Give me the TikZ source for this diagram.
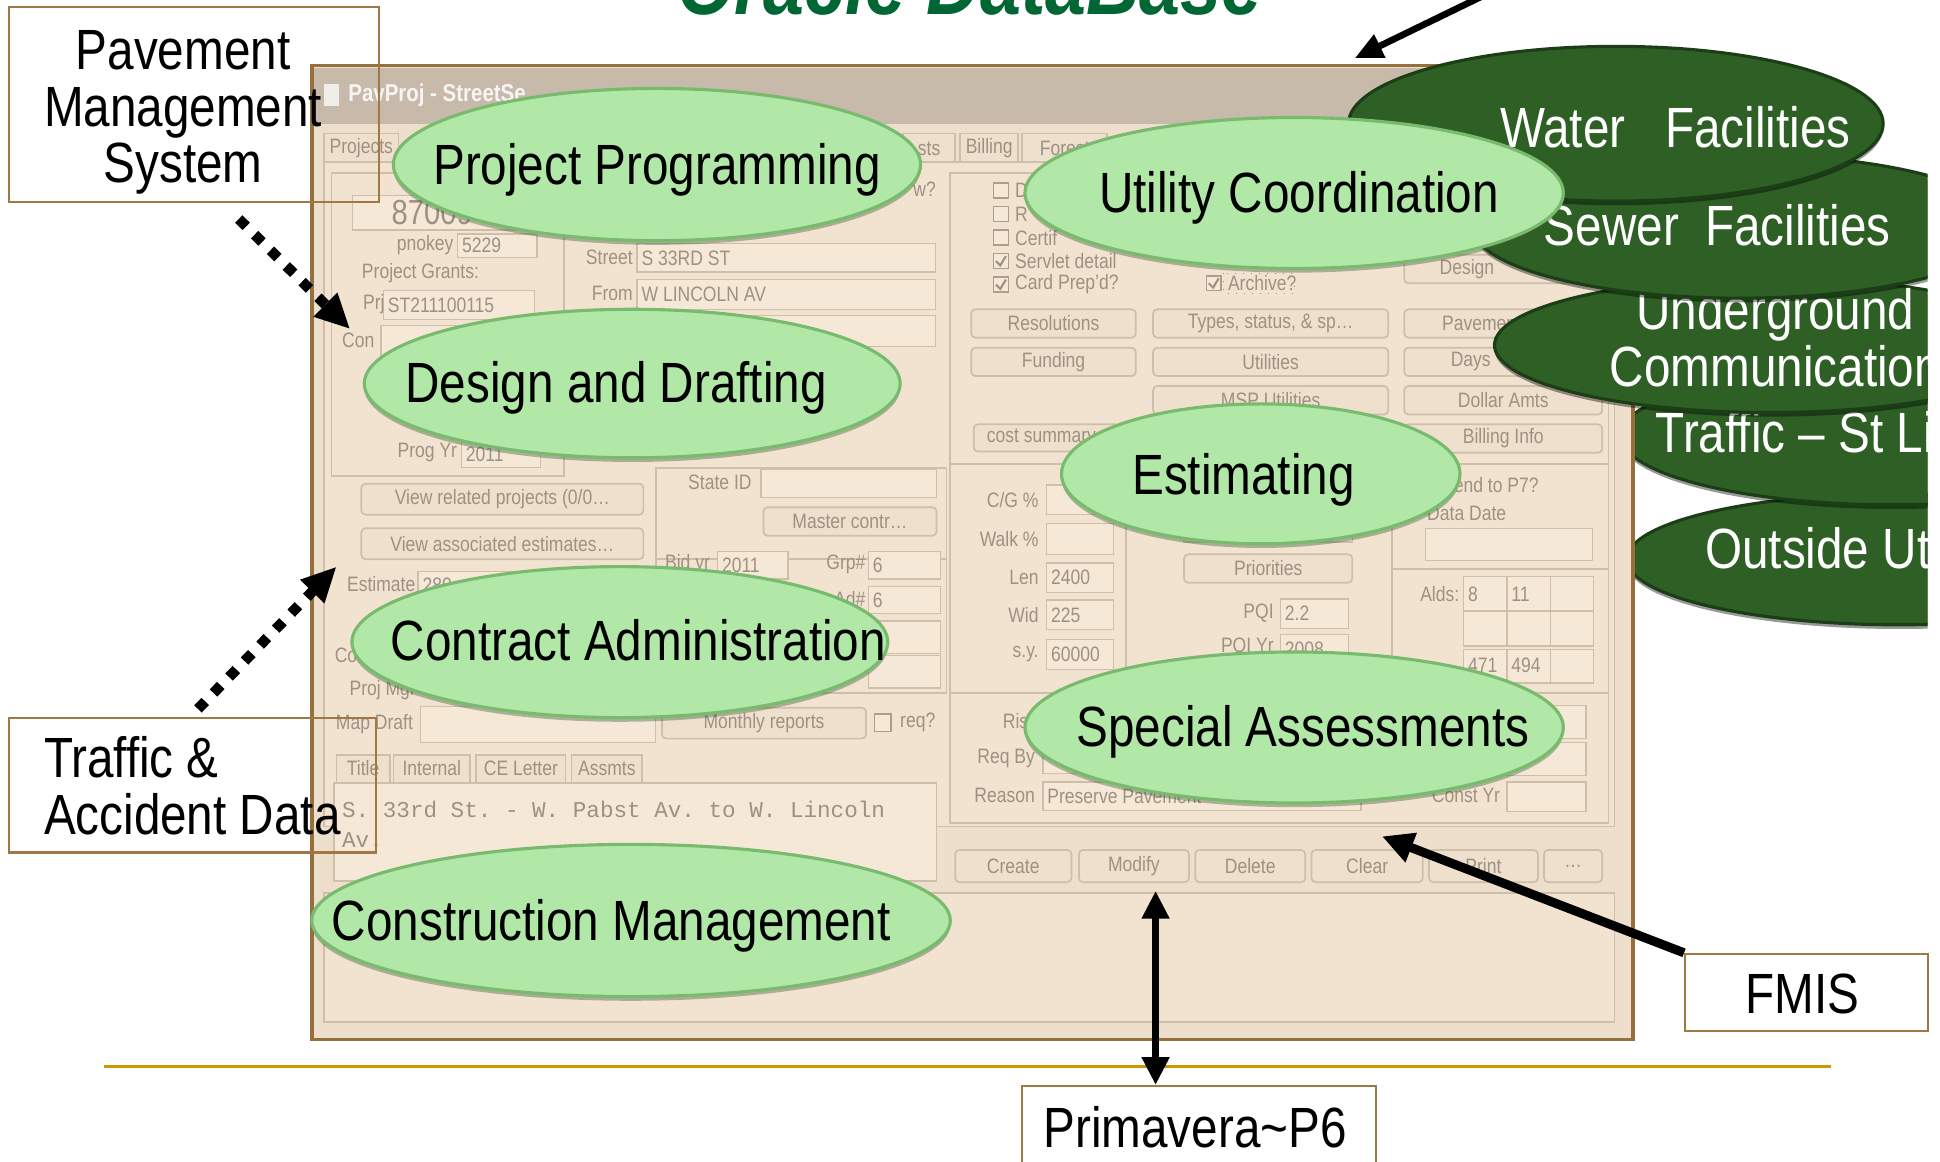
\documentclass[tikz,border=0pt]{standalone}
\usepackage{fontspec}
\setmainfont{Liberation Sans}[FakeStretch=0.84]
\setmonofont{Liberation Mono}
\usetikzlibrary{positioning,arrows.meta,shapes.geometric,shadows}

\definecolor{winbg}{RGB}{238,223,204}
\definecolor{panelbg}{RGB}{242,227,208}
\definecolor{fldbg}{RGB}{246,232,214}
\definecolor{btnbg}{RGB}{239,224,205}
\definecolor{winline}{RGB}{206,190,170}
\definecolor{wintext}{RGB}{158,145,131}
\definecolor{framebrown}{RGB}{150,112,60}
\definecolor{titlebar}{RGB}{199,186,171}
\definecolor{boxbrown}{RGB}{160,120,70}
\definecolor{bubfill}{RGB}{177,231,167}
\definecolor{bubedge}{RGB}{120,186,110}
\definecolor{dkfill}{RGB}{46,95,37}
\definecolor{dkedge}{RGB}{28,62,22}
\definecolor{oraclegreen}{RGB}{0,102,51}
\definecolor{gold}{RGB}{204,153,0}

\newcommand{\bubfont}{\fontsize{16.3}{16.3}\selectfont}
\newcommand{\winfont}{\fontsize{6}{7}\selectfont}

\tikzset{
  lbub/.style={ellipse, fill=bubfill, draw=bubedge, line width=0.9pt, inner sep=0pt,
    drop shadow={shadow xshift=0pt, shadow yshift=-1.2pt, opacity=0.4, fill=bubedge!50!black}},
  dbub/.style={ellipse, fill=dkfill, draw=dkedge, line width=0.9pt, inner sep=0pt,
    drop shadow={shadow xshift=0pt, shadow yshift=-1.2pt, opacity=0.4, fill=black}},
  btxt/.style={font=\bubfont, inner sep=0pt, anchor=base},
  wtxt/.style={btxt, text=white},
  tbox/.style={draw=boxbrown, line width=0.6pt, inner sep=0pt},
  fld/.style={fill=fldbg, draw=winline, line width=0.4pt},
  btn/.style={fill=btnbg, draw=winline, line width=0.5pt, rounded corners=1.2pt},
  grp/.style={draw=winline, line width=0.5pt},
  wl/.style={font=\winfont, text=wintext, inner sep=0pt},
  ckbox/.style={fill=fldbg, draw=wintext!70!winline, line width=0.4pt},
  ckmark/.style={draw=wintext, line width=0.6pt},
  dotarrow/.style={line width=3pt, dash pattern=on 3pt off 3.4pt, -{Triangle[length=10pt,width=9pt]}},
  solarrow/.style={line width=1.9pt, -{Triangle[length=8pt,width=7pt]}}
}

\begin{document}
\begin{tikzpicture}[x=0.0125cm, y=-0.0125cm]
  \useasboundingbox (0,0) rectangle (1568,939);
  \fill[white] (0,0) rectangle (1568,939);

  % ellipses foncees derriere la fenetre
  \begin{scope}
    \clip (0,0) rectangle (1558,939);
    \node[dbub, minimum width=5.5cm, minimum height=1.325cm] (out) at (1535,452) {};
    \node[wtxt] (outtx) at (1512,459.5) {Outside Utilities};
    \node[dbub, minimum width=5.5cm, minimum height=1.4cm] (trf) at (1530,352) {};
    \node[wtxt] (trftx) at (1503,366) {Traffic -- St Lighting};
  \end{scope}

  % fenetre PavProj
  \draw[fill=winbg, draw=framebrown, line width=1pt] (252,53) rectangle (1320,840);
  \fill[titlebar] (254,55) rectangle (1318,100);
  \fill[white!75!titlebar] (262,68) rectangle (274,86);
  \node[anchor=west, font=\fontsize{7}{8}\selectfont\bfseries, text=white!85!titlebar, inner sep=0pt] (wtitle) at (281,77) {PavProj - StreetSe};

  % onglets et panneaux
  \draw[grp, fill=panelbg] (262,131) rectangle (1305,668);
  \foreach \xa/\xb/\lab in {262/322/Projects, 730/772/sts, 776/823/Billing, 826/895/Forest} {
    \draw[grp, fill=btnbg] (\xa,108) rectangle (\xb,131);
    \node[wl] at ({(\xa+\xb)/2},120) {\lab};
  }
  \draw[grp] (268,140) rectangle (456,385);
  \draw[grp] (768,140) rectangle (1300,375);
  \draw[grp] (768,375) rectangle (910,560);
  \draw[grp] (910,375) rectangle (1125,560);
  \draw[grp] (1125,375) rectangle (1300,460);
  \draw[grp] (1125,460) rectangle (1300,560);
  \draw[grp] (768,560) rectangle (1300,665);
  \draw[grp] (530,378) rectangle (765,452);
  \draw[grp] (530,452) rectangle (765,560);
  \draw[grp, fill=panelbg] (262,722) rectangle (1305,826);

  % champs
  \foreach \xa/\ya/\xb/\yb/\v in {285/158/432/186/{}, 370/189/434/208/5229,
      310/235/432/258/ST211100115, 308/263/440/288/{}, 373/356/437/378/2011,
      515/197/756/220/S 33RD ST, 515/226/756/250/W LINCOLN AV, 515/255/756/280/{},
      615/379/757/402/{}, 580/446/637/468/2011, 702/446/760/468/6, 702/474/760/496/6,
      702/502/760/528/{}, 702/530/760/556/{}, 338/462/528/484/280, 340/571/530/600/{},
      846/392/900/416/{}, 846/423/900/448/{}, 846/455/900/479/2400, 846/485/900/509/225,
      846/517/900/541/60000, 957/415/1093/438/{}, 1035/484/1090/508/2.2,
      1035/513/1090/537/2008, 1152/427/1287/453/{}, 1218/570/1282/597/{},
      1218/600/1282/627/{}, 1218/632/1282/656/{}, 843/602/1100/625/{},
      843/632/1100/655/Preserve Pavement} {
    \draw[fld] (\xa,\ya) rectangle (\xb,\yb);
    \node[wl, anchor=west] at (\xa+3,{(\ya+\yb)/2}) {\v};
  }
  \node[anchor=west, font=\fontsize{10}{10}\selectfont, text=wintext, inner sep=0pt] (pnum) at (316,172) {87009};
  \foreach \xa in {1183,1218,1253}
    \foreach \ya/\yb in {466/494, 494/522, 525/552}
      \draw[fld] (\xa,\ya) rectangle (\xa+35,\yb);
  \foreach \x/\y/\v in {1186/480/8, 1221/480/11, 1186/538/471, 1221/538/494}
    \node[wl, anchor=west] at (\x,\y) {\v};

  % libelles
  \foreach \x/\y/\lab in {367/198/pnokey, 370/366/Prog Yr, 512/208/Street, 512/237/From,
      608/390/State ID, 700/456/Grp\#, 700/484/Ad\#, 840/404/{C/G \%}, 840/436/Walk \%,
      840/467/Len, 840/497/Wid, 840/529/s.y., 1030/496/PQI, 1030/523/PQI Yr,
      837/613/Req By, 837/643/Reason, 1213/643/Const Yr, 1180/480/Alds:, 757/153/w?}
    \node[wl, anchor=east] at (\x,\y) {\lab};
  \foreach \x/\y/\lab in {292/221/Project Grants:, 293/246/Prj, 276/275/Con,
      280/472/Estimate, 537/456/Bid yr, 270/530/Co, 282/558/Proj Mgr, 271/585/Map Draft,
      727/584/req?, 1153/415/Data Date, 1165/392/Send to P7?, 810/583/Ris,
      820/154/D, 820/173/R, 820/192/Certif, 820/211/Servlet detail,
      820/230/Card Prep'd?, 992/229/Archive?}
    \node[wl, anchor=west] at (\x,\y) {\lab};

  % boutons
  \foreach \xa/\ya/\xb/\yb/\lab in {785/250/918/273/Resolutions, 785/281/918/304/Funding,
      932/250/1122/273/{Types, status, \& sp\ldots}, 932/281/1122/304/Utilities,
      932/312/1122/335/MSP Utilities, 1135/312/1295/335/Dollar Amts,
      1135/343/1295/366/Billing Info, 292/391/520/416/{View related projects (0/0\ldots},
      292/427/520/452/{View associated estimates\ldots}, 617/410/757/433/{Master contr\ldots},
      957/448/1093/471/Priorities, 535/572/700/597/Monthly reports,
      772/687/866/713/Create, 872/687/961/713/Modify, 966/687/1055/713/Delete,
      1060/687/1150/713/Clear, 1155/687/1243/713/Print, 1248/687/1295/713/\ldots} {
    \draw[btn] (\xa,\ya) rectangle (\xb,\yb);
    \node[wl] at ({(\xa+\xb)/2},{(\ya+\yb)/2}) {\lab};
  }
  \foreach \xa/\ya/\xb/\yb/\tx/\lab in {1135/250/1295/273/1165/Pavement,
      1135/281/1295/304/1172/Days /, 1135/206/1300/229/1163/Design/,
      787/343/905/365/797/cost summary} {
    \draw[btn] (\xa,\ya) rectangle (\xb,\yb);
    \node[wl, anchor=west] at (\tx,{(\ya+\yb)/2}) {\lab};
  }

  % cases a cocher
  \foreach \y in {154,173,192,211,230}
    \draw[ckbox] (803,\y-6) rectangle (815,\y+6);
  \foreach \y in {211,230}
    \draw[ckmark] (805,\y) -- (808.5,\y+3.5) -- (813,\y-4);
  \draw[ckbox] (975,223) rectangle (987,235);
  \draw[ckmark] (977,229) -- (980.5,232.5) -- (985,225);
  \draw[wintext, dotted, line width=0.3pt] (989,221) rectangle (1046,237);
  \draw[ckbox] (707,577) rectangle (720,591);
  \draw[ckbox] (1149,386) rectangle (1161,398);

  % onglets du bas et texte
  \foreach \xa/\xb/\lab in {272/315/Title, 318/380/Internal, 385/457/CE Letter, 462/519/Assmts} {
    \draw[grp, fill=btnbg] (\xa,610) rectangle (\xb,633);
    \node[wl] at ({(\xa+\xb)/2},621) {\lab};
  }
  \draw[fld] (270,633) rectangle (757,712);
  \node[anchor=west, font=\ttfamily\fontsize{6.5}{7.5}\selectfont, text=wintext, inner sep=0pt] (ttl1) at (276,654) {S. 33rd St. - W. Pabst Av. to W. Lincoln};
  \node[anchor=west, font=\ttfamily\fontsize{6.5}{7.5}\selectfont, text=wintext, inner sep=0pt] (ttl2) at (276,679) {Av.};

  % ellipses foncees devant la fenetre
  \begin{scope}
    \clip (0,0) rectangle (1558,939);
    \node[dbub, minimum width=5.55cm, minimum height=1.36cm] (ugc) at (1430,279) {};
    \node[font=\bubfont, text=white, align=center, inner sep=0pt] (ugctx) at (1435,273) {Underground\\Communication};
    \node[dbub, minimum width=5.4cm, minimum height=1.45cm] (swr) at (1406,183) {};
    \node[wtxt] (swrtx) at (1388,198.5) {Sewer\ \ Facilities};
    \node[dbub, minimum width=5.4cm, minimum height=1.5625cm] (wat) at (1306,100) {};
    \node[wtxt] (wattx) at (1354,119.5) {Water\ \ \ Facilities};
  \end{scope}

  % ellipses claires
  \node[lbub, minimum width=5.325cm, minimum height=1.5375cm] (pp) at (531,133) {};
  \node[btxt] (pptx) at (531,149.5) {Project Programming};
  \node[lbub, minimum width=5.4125cm, minimum height=1.5cm] (dd) at (511,310) {};
  \node[btxt] (ddtx) at (498,325.5) {Design and Drafting};
  \node[lbub, minimum width=5.4125cm, minimum height=1.525cm] (ca) at (501,519) {};
  \node[btxt] (catx) at (516,533.5) {Contract Administration};
  \node[lbub, minimum width=6.45cm, minimum height=1.5375cm] (cm) at (510,744) {};
  \node[btxt] (cmtx) at (494,760.5) {Construction Management};
  \node[lbub, minimum width=5.4375cm, minimum height=1.525cm] (uc) at (1046,156) {};
  \node[btxt] (uctx) at (1050,171.5) {Utility Coordination};
  \node[lbub, minimum width=4.025cm, minimum height=1.4125cm] (est) at (1019,383) {};
  \node[btxt] (esttx) at (1005,399.5) {Estimating};
  \node[lbub, minimum width=5.4375cm, minimum height=1.525cm] (sa) at (1046,588) {};
  \node[btxt] (satx) at (1053,603.5) {Special Assessments};

  % cadres des systemes externes
  \node[tbox, minimum width=3.7375cm, minimum height=1.9625cm] (pms) at (156.5,84.5) {};
  \node[font=\bubfont, align=center, inner sep=0pt] (pmstx) at (148,91) {Pavement\\Management\\System};
  \node[tbox, minimum width=3.7125cm, minimum height=1.3625cm] (tad) at (155.5,634.5) {};
  \node[font=\bubfont, align=left, anchor=west, inner sep=0pt] (tadtx) at (35,635) {Traffic \&\\Accident Data};
  \node[tbox, minimum width=2.45cm, minimum height=0.775cm] (fmis) at (1460,802) {};
  \node[btxt] (fmistx) at (1457,819.5) {FMIS};
  \node[tbox, minimum width=3.575cm, minimum height=0.875cm] (p6) at (969,913) {};
  \node[btxt] (p6tx) at (966,927.5) {Primavera\textasciitilde P6};

  % ligne doree
  \draw[gold, line width=1.1pt] (84,862) -- (1480,862);

  % fleches
  \coordinate (pmsstart) at (193,177);
  \coordinate (pmstip) at (283,266);
  \draw[dotarrow] (pmsstart) -- (pmstip);
  \coordinate (tadstart) at (160,573);
  \coordinate (tadtip) at (272,458);
  \draw[dotarrow] (tadstart) -- (tadtip);
  \coordinate (orastart) at (1200,-4);
  \coordinate (oratip) at (1095,47);
  \draw[solarrow] (orastart) -- (oratip);
  \coordinate (fmistip) at (1117,676);
  \draw[line width=2.6pt, -{Triangle[length=9pt,width=8.5pt]}] (fmis.north west) -- (fmistip);
  \coordinate (p6top) at (934,877);
  \coordinate (p6tip) at (934,720);
  \draw[line width=2pt, {Triangle[length=8pt,width=7.5pt]}-{Triangle[length=8pt,width=7.5pt]}] (p6top) -- (p6tip);

  % titre
  \node[anchor=base, font=\fontsize{25.2}{26}\selectfont\bfseries\itshape, text=oraclegreen, inner sep=0pt] (oracle) at (784,12) {Oracle DataBase};
\end{tikzpicture}
\end{document}
